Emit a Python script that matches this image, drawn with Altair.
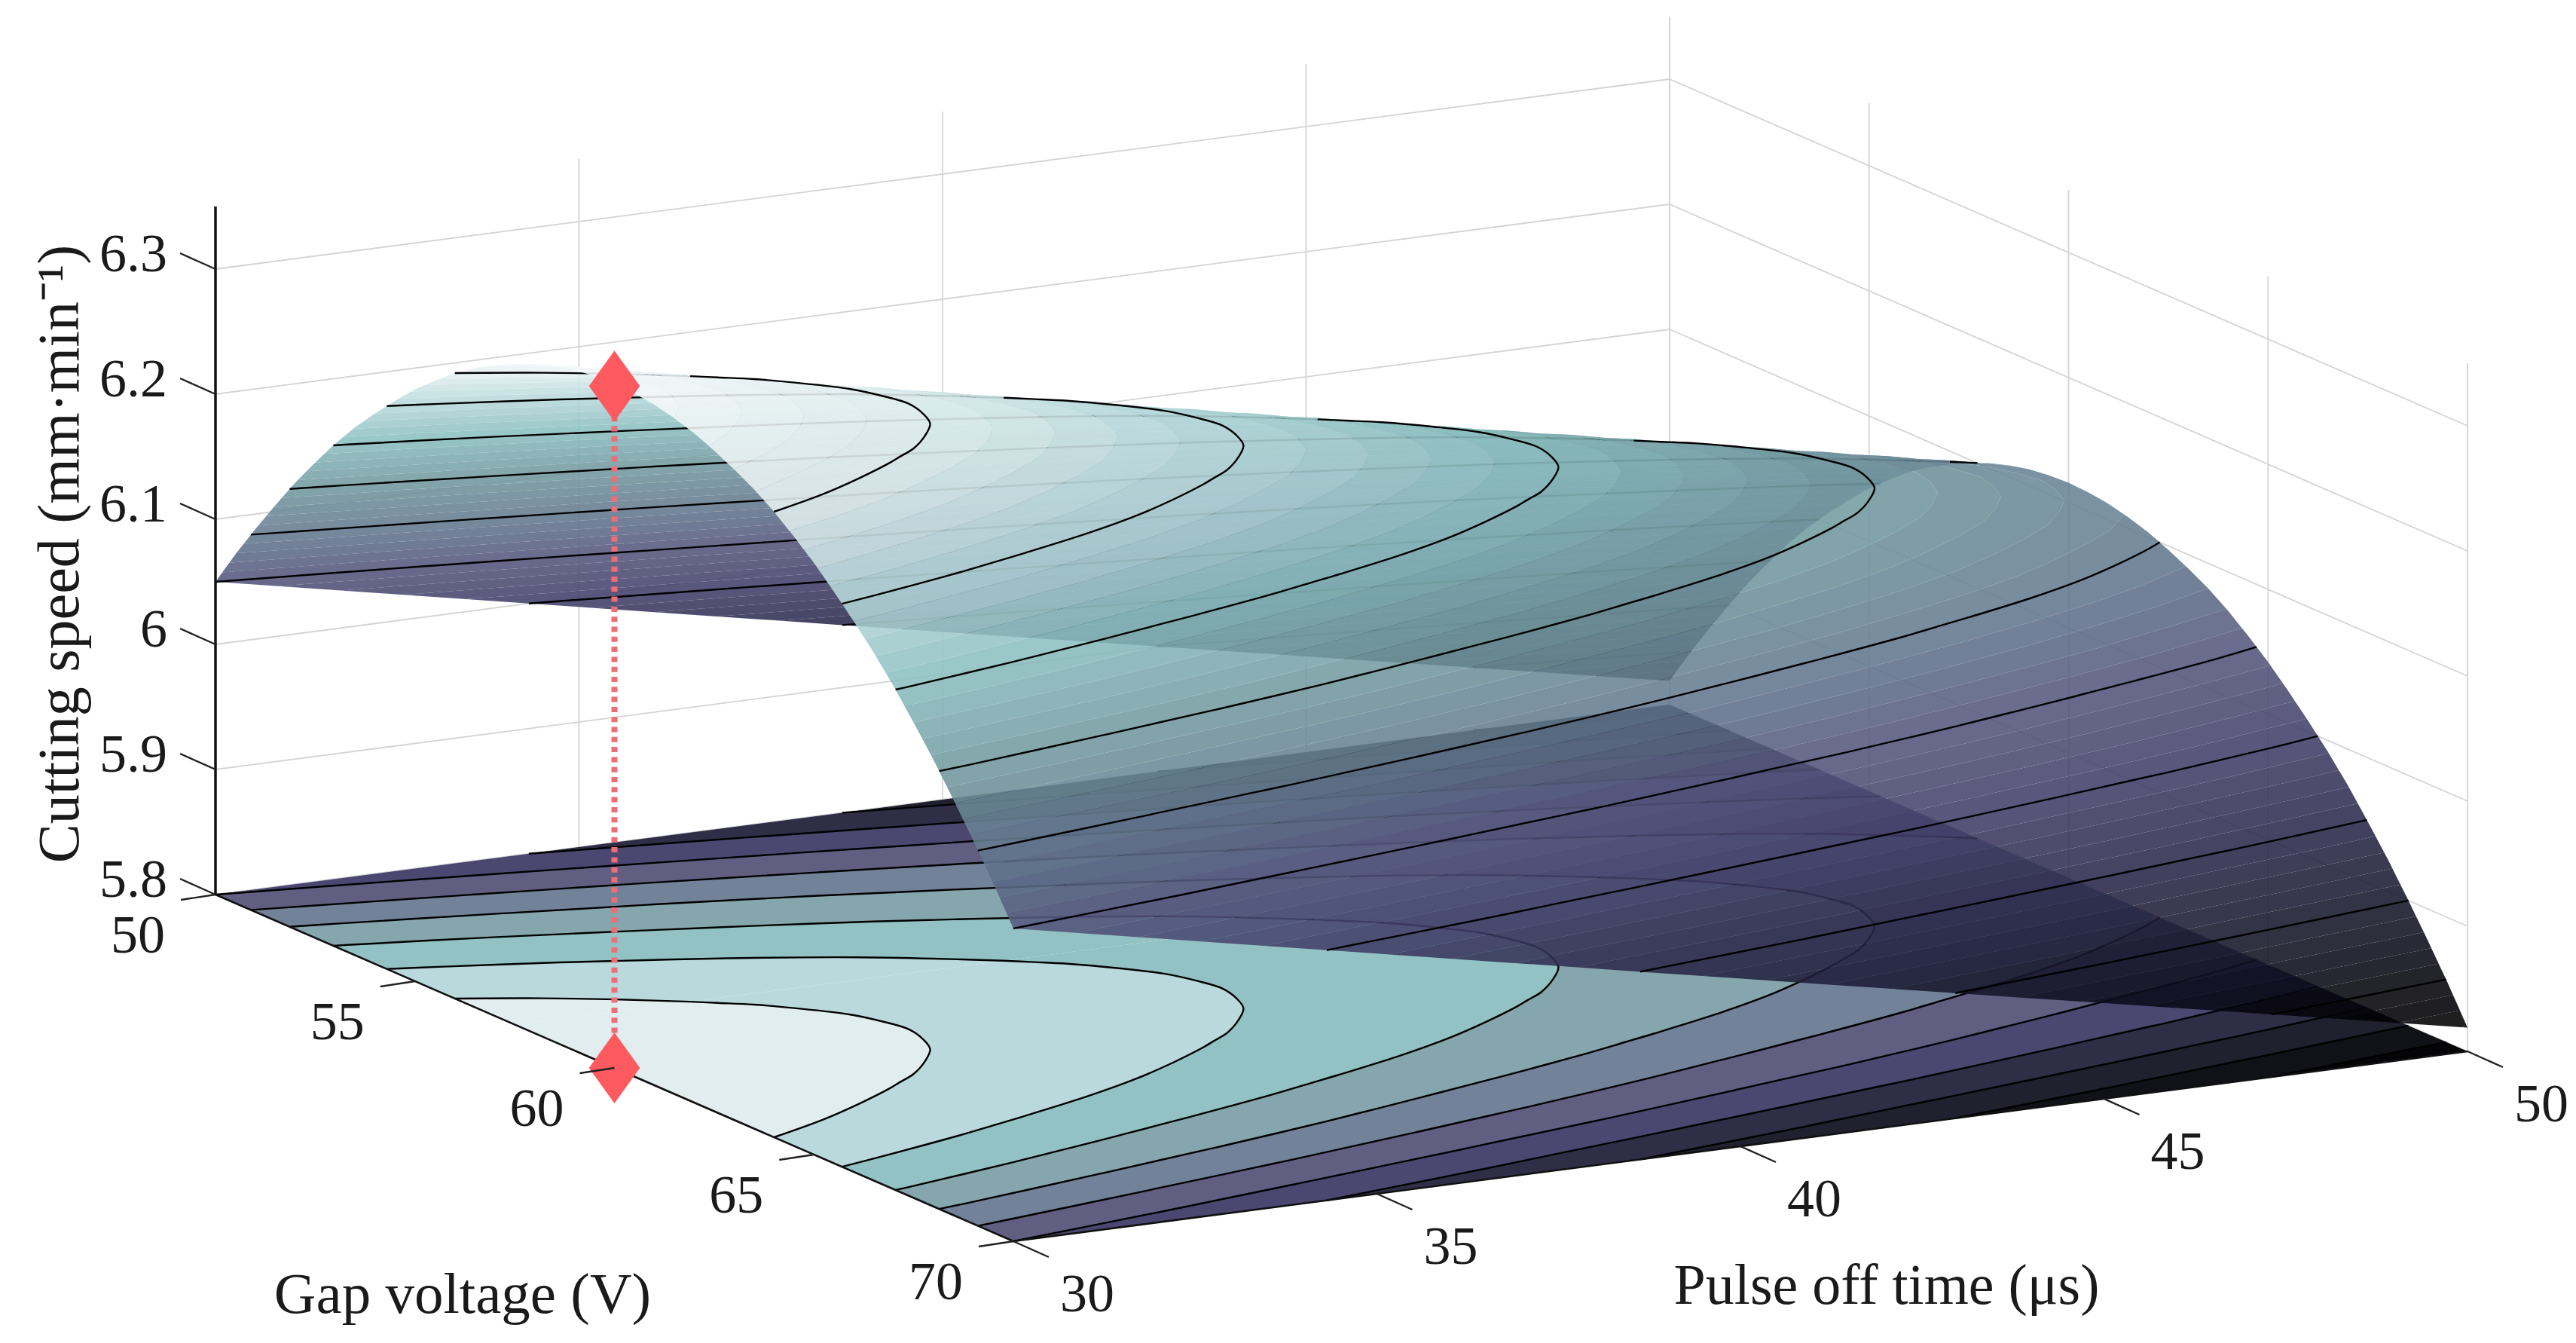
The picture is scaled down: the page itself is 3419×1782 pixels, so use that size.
import numpy as np
import pandas as pd
import altair as alt

alt.data_transformers.disable_max_rows()

# ---- values -----------------------------------------------------------
PULSE = [30, 40, 50]
GAP = [50, 50.5, 51, 51.5, 52, 52.5, 53, 53.5, 54, 54.5, 55, 55.5, 56, 56.5, 57, 57.5, 58, 58.5, 59, 59.5, 60,
       60.5, 61, 61.5, 62, 62.5, 63, 63.5, 64, 64.5, 65, 65.5, 66, 66.5, 67, 67.5, 68, 68.5, 69, 69.5, 70]
Z_P30 = [6.050, 6.079, 6.106, 6.132, 6.157, 6.180, 6.202, 6.222, 6.240, 6.257, 6.273, 6.287, 6.300, 6.311, 6.320,
         6.328, 6.335, 6.340, 6.344, 6.346, 6.347, 6.346, 6.344, 6.340, 6.335, 6.328, 6.320, 6.311, 6.300, 6.287,
         6.273, 6.257, 6.240, 6.222, 6.202, 6.180, 6.157, 6.132, 6.106, 6.079, 6.050]
Z_P40 = [5.934, 5.963, 5.990, 6.016, 6.041, 6.064, 6.086, 6.106, 6.124, 6.141, 6.157, 6.171, 6.184, 6.195, 6.204,
         6.212, 6.219, 6.224, 6.228, 6.230, 6.231, 6.230, 6.228, 6.224, 6.219, 6.212, 6.204, 6.195, 6.184, 6.171,
         6.157, 6.141, 6.124, 6.106, 6.086, 6.064, 6.041, 6.016, 5.990, 5.963, 5.934]
Z_P50 = [5.819, 5.848, 5.875, 5.901, 5.926, 5.949, 5.971, 5.991, 6.009, 6.026, 6.042, 6.056, 6.069, 6.080, 6.089,
         6.097, 6.104, 6.109, 6.113, 6.115, 6.116, 6.115, 6.113, 6.109, 6.104, 6.097, 6.089, 6.080, 6.069, 6.056,
         6.042, 6.026, 6.009, 5.991, 5.971, 5.949, 5.926, 5.901, 5.875, 5.848, 5.819]
CONTOUR_LEVELS = [5.85, 5.90, 5.95, 6.00, 6.05, 6.10, 6.15, 6.20, 6.25, 6.30]
Z_TICKS = [5.8, 5.9, 6.0, 6.1, 6.2, 6.3]
Z_LABELS = ["5.8", "5.9", "6", "6.1", "6.2", "6.3"]
GAP_TICKS = [50, 55, 60, 65, 70]
PULSE_TICKS = [30, 35, 40, 45, 50]
OPT_PULSE, OPT_GAP, OPT_SPEED = 30, 60, 6.345
# colours seen on the curved surface
CMAP_Z = [5.80, 5.85, 5.90, 5.95, 6.00, 6.05, 6.10, 6.15, 6.20, 6.25, 6.30, 6.35]
CMAP_RGB = [(22, 22, 22), (34, 34, 40), (50, 50, 68), (68, 66, 96), (88, 85, 122), (104, 106, 140),
            (118, 138, 156), (131, 165, 171), (150, 196, 197), (190, 220, 222), (232, 242, 243), (248, 251, 251)]
# flat colours of the filled contours on the floor, low to high
FLOOR_LEVELS = [5.80, 5.85, 5.90, 5.95, 6.00, 6.05, 6.10, 6.15, 6.20, 6.25, 6.30, 6.35]
FLOOR_COLOURS = ["#050508", "#111118", "#20202e", "#302e46", "#4c4771", "#625e82",
                 "#718299", "#85a6ac", "#92c2c3", "#bad9dc", "#e2edef"]
Z_FLOOR, Z_TOP = 5.8, 6.35
SURF_LEVELS = [5.80, 5.81, 5.82, 5.83, 5.84, 5.85, 5.86, 5.87, 5.88, 5.89, 5.90, 5.91, 5.92, 5.93, 5.94, 5.95,
               5.96, 5.97, 5.98, 5.99, 6.00, 6.01, 6.02, 6.03, 6.04, 6.05, 6.06, 6.07, 6.08, 6.09, 6.10, 6.11,
               6.12, 6.13, 6.14, 6.15, 6.16, 6.17, 6.18, 6.19, 6.20, 6.21, 6.22, 6.23, 6.24, 6.25, 6.26, 6.27,
               6.28, 6.29, 6.30, 6.31, 6.32, 6.33, 6.34, 6.35]
SURF_ALPHA = 0.88


# ---- oblique projection of the MATLAB-style 3-D box ---------------------
def project(p, g, z):
    p, g, z = np.asarray(p, float), np.asarray(g, float), np.asarray(z, float)
    u = 286 + (p - 30) / 20 * 1930 + (g - 50) / 20 * 1059
    v = 1187 - (p - 30) / 20 * 252 + (g - 50) / 20 * 460 - (z - 5.8) * 1660
    return u, v


gap = np.array(GAP, float)
zrows = np.array([Z_P30, Z_P40, Z_P50], float)
EPS = 1e-7


def surf_colour(z):
    """surface colour before its transparency over white gives the colour seen"""
    rgb = [np.interp(z, CMAP_Z, [c[i] for c in CMAP_RGB]) for i in range(3)]
    rgb = [(x - (1 - SURF_ALPHA) * 255) / SURF_ALPHA for x in rgb]
    return "#%02x%02x%02x" % tuple(int(round(max(0, min(255, x)))) for x in rgb)


def profile(g):
    return np.array([np.interp(g, gap, r) for r in zrows])


def columns(g0, g1, lvls):
    """table columns of one slope plus the places where a level leaves an edge"""
    cols = set(gap[(gap >= g0) & (gap <= g1)].tolist())
    for r in (zrows[0], zrows[2]):
        for i in range(len(gap) - 1):
            if gap[i] < g0 or gap[i + 1] > g1:
                continue
            z0, z1 = r[i], r[i + 1]
            for L in lvls:
                if min(z0, z1) < L < max(z0, z1):
                    cols.add(float(gap[i] + (L - z0) / (z1 - z0) * (gap[i + 1] - gap[i])))
    return sorted(cols)


def p_at(L, prof):
    return float(np.interp(L, prof[::-1], np.array(PULSE, float)[::-1]))


def runs(cols, keep):
    out, cur = [], []
    for g in cols:
        if keep(g):
            cur.append(g)
        else:
            if len(cur) > 1:
                out.append(cur)
            cur = []
    if len(cur) > 1:
        out.append(cur)
    return out


def band_rows(g0, g1, floor, tag):
    rows = []
    lvls = FLOOR_LEVELS if floor else SURF_LEVELS
    cols = columns(g0, g1, list(lvls) + CONTOUR_LEVELS)
    profs = {g: profile(g) for g in cols}
    for k in range(len(lvls) - 1):
        a, b = lvls[k], lvls[k + 1]
        col = FLOOR_COLOURS[k] if floor else surf_colour((a + b) / 2)
        keep = lambda g: profs[g][0] >= a - EPS and profs[g][2] <= b + EPS
        for n, use in enumerate(runs(cols, keep)):
            ring = [(g, p_at(b, profs[g])) for g in use] + [(g, p_at(a, profs[g])) for g in reversed(use)]
            for i, (g, p) in enumerate(ring):
                z = Z_FLOOR if floor else float(np.interp(p, PULSE, profs[g]))
                x, y = project(p, g, z)
                rows.append((f"{tag}{k}_{n}", i, round(float(x), 1), round(float(y), 1), col))
    return pd.DataFrame(rows, columns=["id", "o", "x", "y", "c"])


def contour_rows(g0, g1, floor, tag):
    rows = []
    cols = columns(g0, g1, CONTOUR_LEVELS)
    profs = {g: profile(g) for g in cols}
    for L in CONTOUR_LEVELS:
        keep = lambda g: profs[g][2] - EPS <= L <= profs[g][0] + EPS
        for n, use in enumerate(runs(cols, keep)):
            for i, g in enumerate(use):
                x, y = project(p_at(L, profs[g]), g, Z_FLOOR if floor else L)
                rows.append((f"{tag}{L}_{n}", i, round(float(x), 1), round(float(y), 1)))
    return pd.DataFrame(rows, columns=["id", "o", "x", "y"])


# ---- shared position channels -------------------------------------------
W, H = 3403, 1756
X = alt.X("x:Q", scale=alt.Scale(domain=[8, 8 + W], range=[0, W], nice=False, zero=False), axis=None)
Y = alt.Y("y:Q", scale=alt.Scale(domain=[8, 8 + H], range=[0, H], nice=False, zero=False), axis=None)


def fills(df, alpha=1.0):
    return alt.Chart(df).mark_line(strokeWidth=0, fillOpacity=alpha, interpolate="linear").encode(
        x=X, y=Y, detail="id:N", order="o:Q", fill=alt.Fill("c:N", scale=None))


def lines(df, color, width, **kw):
    return alt.Chart(df).mark_line(color=color, strokeWidth=width, **kw).encode(
        x=X, y=Y, detail="id:N", order="o:Q")


def segs(pairs):
    rows = []
    for n, (s, e) in enumerate(pairs):
        rows.append((n, 0, float(s[0]), float(s[1])))
        rows.append((n, 1, float(e[0]), float(e[1])))
    return pd.DataFrame(rows, columns=["id", "o", "x", "y"])


def texts(items, size=72, **kw):
    df = pd.DataFrame(items, columns=["x", "y", "t"])
    return alt.Chart(df).mark_text(font="Liberation Serif", fontSize=size, color="#1a1a1a", **kw).encode(
        x=X, y=Y, text="t:N")


# ---- walls -----------------------------------------------------------------
wall = []
for z in Z_TICKS:
    wall.append((project(30, 50, z), project(50, 50, z)))
    wall.append((project(50, 50, z), project(50, 70, z)))
for p in PULSE_TICKS:
    wall.append((project(p, 50, Z_FLOOR), project(p, 50, Z_TOP)))
for g in GAP_TICKS:
    wall.append((project(50, g, Z_FLOOR), project(50, g, Z_TOP)))

# ---- axes --------------------------------------------------------------------
axis_thick = [(project(30, 50, Z_FLOOR), project(30, 50, Z_TOP))]
axis_thin = [(project(30, 50, Z_FLOOR), project(30, 70, Z_FLOOR)),
             (project(30, 70, Z_FLOOR), project(50, 70, Z_FLOOR))]
ticks = []
for z in Z_TICKS:
    s = project(30, 50, z)
    ticks.append((s, (s[0] - 47, s[1] - 21)))
for g in GAP_TICKS:
    s = project(30, g, Z_FLOOR)
    ticks.append((s, (s[0] - 46, s[1] + 7)))
for p in PULSE_TICKS:
    s = project(p, 70, Z_FLOOR)
    ticks.append((s, (s[0] + 47, s[1] + 21)))

z_labels = [(float(project(30, 50, z)[0]) - 64, float(project(30, 50, z)[1]) - 19, t) for z, t in zip(Z_TICKS, Z_LABELS)]
gap_labels = [(float(project(30, g, Z_FLOOR)[0]) - 103, float(project(30, g, Z_FLOOR)[1]) + 55, str(g)) for g in GAP_TICKS]
pulse_labels = [(float(project(p, 70, Z_FLOOR)[0]) + 98, float(project(p, 70, Z_FLOOR)[1]) + 71, str(p)) for p in PULSE_TICKS]

top = project(OPT_PULSE, OPT_GAP, OPT_SPEED)
bottom = project(OPT_PULSE, OPT_GAP, Z_FLOOR)
marker_df = pd.DataFrame({"x": [float(top[0]), float(bottom[0])], "y": [float(top[1]), float(bottom[1])]})
SPLIT = 57.5
SMOOTH = "catmull-rom"

layers = [
    lines(segs(wall), "#d4d4d4", 1.8),
    fills(band_rows(50, SPLIT, True, "fa")),
    fills(band_rows(SPLIT, 70, True, "fb")),
    lines(contour_rows(50, SPLIT, True, "ca"), "#000000", 2.4, interpolate=SMOOTH),
    lines(contour_rows(SPLIT, 70, True, "cb"), "#000000", 2.4, interpolate=SMOOTH),
    fills(band_rows(50, SPLIT, False, "sa"), SURF_ALPHA),
    lines(contour_rows(50, SPLIT, False, "da"), "#000000", 2.4, interpolate=SMOOTH),
    fills(band_rows(SPLIT, 70, False, "sb"), SURF_ALPHA),
    lines(contour_rows(SPLIT, 70, False, "db"), "#000000", 2.4, interpolate=SMOOTH),
    lines(segs([(top, bottom)]), "#ec6f78", 8, strokeDash=[7, 6.3]),
    lines(segs(axis_thick), "#111111", 3.5),
    lines(segs(axis_thin), "#111111", 2.6),
    alt.Chart(marker_df).mark_point(shape="M0,-1L0.72,0L0,1L-0.72,0Z", size=8836, filled=True,
                                    color="#ff5a5f", opacity=1).encode(x=X, y=Y),
    lines(segs(ticks), "#222222", 2.4),
    texts(z_labels, align="right", baseline="middle"),
    texts(gap_labels, align="center", baseline="middle"),
    texts(pulse_labels, align="center", baseline="middle"),
    texts([(614, 1742, "Gap voltage (V)")], size=77, align="center", baseline="alphabetic"),
    texts([(2504, 1730, "Pulse off time (μs)")], size=76, align="center", baseline="alphabetic"),
    texts([(104, 735, "Cutting speed (mm·min⁻¹)")], size=78, align="center", baseline="alphabetic", angle=270),
]

chart = alt.layer(*layers).properties(
    width=W, height=H, padding=0, background="white", autosize=alt.AutoSizeParams(type="none")
).configure_view(stroke=None)

chart.save("out.html", embed_options={"renderer": "svg", "actions": False})
